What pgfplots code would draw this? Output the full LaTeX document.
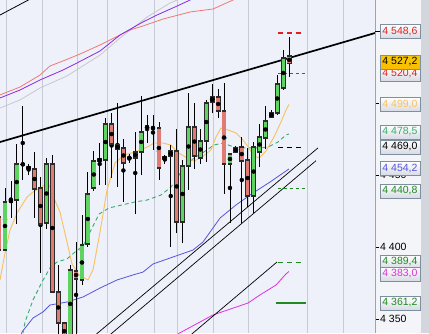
\documentclass[border=0pt]{standalone}
\usepackage{pgfplots}
\pgfplotsset{compat=1.18}
\usepackage{pgfplotstable}
\usepackage{fontspec}
\setmainfont{Liberation Sans}
\definecolor{bgc}{HTML}{EEF0FA}
\definecolor{gridc}{HTML}{C6CBD8}
\definecolor{panelc}{HTML}{F4F5F9}
\definecolor{stripc}{HTML}{D3D6DD}
\definecolor{gfill}{HTML}{5FD35F}
\definecolor{rfill}{HTML}{E07B74}
\definecolor{cborder}{HTML}{2B2B2B}
\definecolor{maorange}{HTML}{F8C15C}
\definecolor{magreen}{HTML}{34B06A}
\definecolor{mablue}{HTML}{5555DD}
\definecolor{mamag}{HTML}{E030E0}
\definecolor{mared}{HTML}{F07878}
\definecolor{mapurple}{HTML}{8A2BE2}
\definecolor{magray}{HTML}{C8C8CC}
\definecolor{lvred}{HTML}{E02020}
\definecolor{lvgreen}{HTML}{1F8A1F}
\definecolor{boxdraw}{HTML}{7F8FA0}
\definecolor{gold}{HTML}{F8C800}

\pgfplotstableread{
i o h l c
0 4397.9 4441.0 4397.2 4431.3
1 4431.3 4445.8 4420.1 4432.6
2 4432.6 4471.5 4416.0 4457.6
3 4457.3 4497.9 4446.5 4457.5
7 4416.7 4461.8 4412.5 4457.6
11 4337.0 4387.5 4330.0 4384.0
13 4377.1 4422.2 4373.6 4401.4
14 4402.1 4452.1 4400.0 4436.8
15 4441.0 4466.7 4438.9 4459.7
16 4459.7 4472.2 4443.1 4461.1
17 4460.4 4489.6 4443.1 4485.4
21 4461.9 4464.6 4458.3 4462.0
22 4461.8 4479.9 4422.9 4466.0
23 4466.0 4504.9 4450.0 4479.9
24 4481.9 4491.7 4472.2 4484.0
25 4482.5 4491.7 4467.4 4482.7
27 4461.1 4463.9 4457.6 4462.5
28 4463.2 4470.8 4400.0 4466.7
30 4417.4 4460.4 4402.8 4456.3
31 4456.3 4506.9 4439.6 4483.3
33 4461.8 4481.9 4457.6 4473.6
34 4473.6 4502.1 4459.0 4500.0
35 4500.7 4513.2 4493.1 4504.2
38 4457.6 4465.3 4416.7 4464.6
39 4466.0 4470.1 4465.3 4468.8
42 4435.4 4472.9 4423.6 4469.4
43 4466.0 4485.4 4455.6 4476.4
44 4475.7 4497.9 4468.1 4487.5
45 4490.3 4495.1 4489.6 4493.1
46 4493.1 4519.4 4491.7 4513.2
47 4510.4 4536.8 4509.0 4531.3
}\greendata

\pgfplotstableread{
i o h l c
-1 4420.8 4424.3 4394.4 4397.9
4 4455.6 4457.6 4450.0 4454.2
5 4454.2 4466.0 4420.1 4440.3
6 4441.0 4448.6 4381.9 4416.0
8 4457.6 4464.0 4368.1 4368.8
9 4368.8 4387.5 4335.4 4347.2
10 4347.2 4348.0 4328.0 4336.0
12 4383.3 4403.5 4330.0 4377.8
18 4485.4 4493.1 4447.9 4471.5
19 4470.8 4500.0 4441.7 4468.1
20 4468.8 4475.0 4431.3 4458.3
26 4482.6 4486.8 4446.5 4454.9
29 4466.7 4481.9 4409.7 4417.4
32 4483.3 4500.0 4454.2 4463.2
36 4504.2 4509.7 4489.6 4494.4
37 4494.4 4513.9 4436.8 4457.6
40 4469.4 4476.4 4416.7 4459.7
41 4460.4 4468.8 4427.8 4435.4
48 4532.6 4545.8 4518.1 4527.2
}\reddata

\pgfplotsset{
  wick/.style={only marks, mark=none, forget plot,
    error bars/.cd, y dir=both, y explicit, error mark=none,
    error bar style={draw=black, line width=0.8pt}},
  bodyout/.style={only marks, mark=none, forget plot,
    error bars/.cd, y dir=both, y explicit, error mark=none,
    error bar style={draw=cborder, line width=4.8pt}},
  bodyin/.style={only marks, mark=none, forget plot,
    error bars/.cd, y dir=both, y explicit, error mark=none,
    error bar style={draw=#1, line width=3.4pt}},
}

\begin{document}
\begin{tikzpicture}
\fill[panelc] (375pt,0pt) rectangle (429pt,333pt);
\fill[stripc] (421pt,0pt) rectangle (429pt,333pt);
\begin{axis}[
  at={(0pt,0pt)}, anchor=south west,
  scale only axis, width=375pt, height=333pt,
  xmin=-0.845, xmax=62.5, ymin=4340.28, ymax=4571.53,
  clip mode=individual,
  axis background/.style={fill=bgc},
  axis line style={draw=none},
  xtick={0.17,6.25,12.16,17.23,25.17,29.05,35.14,41.05,51.01,57.09},
  xticklabels={}, x tick style={draw=none},
  xmajorgrids, major grid style={gridc, line width=0.8pt},
  ytick={4350,4400,4450,4500,4550},
  yticklabels={4 350,4 400,4 450,,},
  ytick pos=right, yticklabel pos=right,
  tick align=outside, major tick length=4pt,
  y tick style={draw=black, line width=0.5pt},
  yticklabel style={font=\fontsize{10.5}{12}\selectfont, anchor=west, inner sep=1pt},
]
% moving averages
\addplot[magray, line width=0.8pt] coordinates {(-0.845,4496.5)(2.53,4502.1)(5.91,4510.4)(10.47,4518.8)(16.05,4533.3)(19.43,4545.1)(23.99,4559.7)(27.87,4569.4)(29.05,4571.5)(30.41,4575)};
\addplot[mared, line width=0.8pt] coordinates {(-0.845,4505.6)(2.53,4511.1)(5.91,4519.4)(7.60,4525.7)(9.80,4529.2)(12.67,4534.0)(16.05,4540.3)(19.43,4547.2)(21.11,4550.7)(23.31,4553.5)(26.69,4558.3)(31.25,4563.2)(35.14,4565.3)(38.51,4571.5)(40.54,4575)};
\addplot[mapurple, line width=0.8pt] coordinates {(-0.845,4503.5)(2.53,4509.0)(5.91,4516.0)(9.80,4522.9)(12.16,4527.8)(16.05,4536.1)(19.43,4547.2)(23.31,4556.3)(25.68,4561.1)(28.72,4566.7)(31.25,4571.5)(32.94,4575)};
\addplot[mablue, line width=0.8pt] coordinates {(2.53,4335.4)(2.87,4341.0)(4.73,4350.7)(6.42,4354.9)(7.60,4359.7)(10.47,4361.8)(13.18,4365.3)(16.05,4371.5)(18.92,4377.1)(21.62,4380.6)(23.31,4382.6)(25.0,4388.2)(28.89,4393.8)(31.76,4397.9)(33.45,4403.5)(36.32,4420.1)(39.02,4429.2)(41.89,4437.5)(44.76,4445.1)(47.97,4454.2)};
\addplot[mamag, line width=0.8pt] coordinates {(28.55,4338.2)(35.14,4352.8)(41.05,4361.1)(43.07,4366.7)(45.78,4373.6)(47.47,4381.3)(47.97,4383.0)};
\addplot[magreen, line width=0.9pt, dash pattern=on 4pt off 3pt] coordinates {(2.70,4335.4)(3.04,4340.3)(3.38,4347.9)(4.73,4363.2)(6.25,4375.7)(7.60,4385.4)(8.78,4389.6)(10.47,4391.7)(11.82,4396.5)(13.18,4400.7)(14.70,4413.2)(15.88,4422.9)(17.57,4427.1)(19.76,4429.2)(21.96,4431.3)(23.99,4432.6)(26.35,4436.1)(28.04,4441.7)(28.89,4446.5)(30.24,4455.6)(31.93,4461.8)(33.61,4466.0)(35.30,4470.8)(36.82,4472.2)(38.68,4469.4)(40.20,4468.8)(42.91,4468.8)(44.43,4469.4)(46.11,4472.9)(47.47,4477.8)(47.97,4478.5)};
\addplot[maorange, line width=0.9pt] coordinates {(-0.845,4377.1)(0,4395.8)(0.845,4411.8)(2.03,4423.6)(3.72,4434.7)(4.73,4438.2)(6.25,4441.7)(7.09,4444.4)(7.60,4441.7)(8.11,4435.4)(9.29,4424.3)(10.47,4403.5)(11.32,4388.2)(12.50,4380.6)(14.02,4377.1)(14.86,4384.0)(16.05,4410.4)(17.23,4439.6)(18.58,4458.3)(20.10,4463.9)(21.96,4466.0)(23.99,4469.4)(25.17,4472.2)(26.69,4472.2)(28.04,4470.8)(29.05,4466.0)(30.74,4461.8)(31.93,4459.7)(33.28,4462.5)(34.80,4467.4)(35.64,4476.4)(36.49,4482.6)(37.67,4481.3)(39.02,4479.2)(40.20,4474.3)(41.22,4468.8)(42.06,4463.2)(42.91,4461.8)(44.09,4466.7)(45.44,4476.4)(46.62,4486.8)(47.47,4495.1)(47.97,4499.0)};
% trend lines
\addplot[black, line width=1.7pt] coordinates {(-0.845,4472.9)(62.5,4548.6)};
\addplot[black, line width=0.8pt] coordinates {(-0.845,4561.1)(6,4576)};
\addplot[black, line width=0.7pt] coordinates {(15.20,4338.7)(52.87,4468.8)};
\addplot[black, line width=0.7pt] coordinates {(17.57,4338.5)(52.53,4459.9)};
\addplot[black, line width=0.7pt] coordinates {(31.25,4338.5)(45.95,4389.6)};
% level markers
\addplot[lvred, line width=1.4pt, dash pattern=on 5pt off 4pt] coordinates {(46.11,4548.6)(50.5,4548.6)};
\addplot[lvred, line width=0.6pt, dash pattern=on 3pt off 3pt] coordinates {(46.11,4520.4)(50.84,4520.4)};
\addplot[black, line width=1.5pt, dash pattern=on 5pt off 4pt] coordinates {(46.11,4469.0)(50.5,4469.0)};
\addplot[lvgreen, line width=0.6pt, dash pattern=on 3pt off 3pt] coordinates {(46.11,4440.8)(50.84,4440.8)};
\addplot[lvgreen, line width=1.5pt, dash pattern=on 5pt off 4pt] coordinates {(46.11,4389.4)(50.5,4389.4)};
\addplot[lvgreen, line width=1.5pt] coordinates {(45.78,4361.2)(50.84,4361.2)};
% candles
\addplot[wick] table[x=i, y expr=(\thisrow{h}+\thisrow{l})/2, y error expr=(\thisrow{h}-\thisrow{l})/2] \greendata;
\addplot[wick] table[x=i, y expr=(\thisrow{h}+\thisrow{l})/2, y error expr=(\thisrow{h}-\thisrow{l})/2] \reddata;
\addplot[bodyout] table[x=i, y expr=(\thisrow{o}+\thisrow{c})/2, y error expr={abs(\thisrow{c}-\thisrow{o})/2+0.45}] \greendata;
\addplot[bodyout] table[x=i, y expr=(\thisrow{o}+\thisrow{c})/2, y error expr={abs(\thisrow{c}-\thisrow{o})/2+0.45}] \reddata;
\addplot[bodyin=gfill] table[x=i, y expr=(\thisrow{o}+\thisrow{c})/2, y error expr={max(abs(\thisrow{c}-\thisrow{o})/2-0.45,0)}] \greendata;
\addplot[bodyin=rfill] table[x=i, y expr=(\thisrow{o}+\thisrow{c})/2, y error expr={max(abs(\thisrow{c}-\thisrow{o})/2-0.45,0)}] \reddata;
\draw[draw=boxdraw!80, line width=0.8pt] (rel axis cs:1,0) -- (rel axis cs:1,1);
\end{axis}
\tikzset{lb/.style={draw=boxdraw, line width=0.6pt, top color=white, bottom color=gridc!70, minimum width=40pt, minimum height=14pt, inner sep=0pt, font=\fontsize{10.5}{12}\selectfont}}
\draw[black, line width=1.7pt] (375pt,301.5pt) -- (380pt,301.5pt);
\node[lb, text=lvred] at (400pt,301.5pt) {4 548,6};
\node[lb, text=lvred] at (400pt,259pt) {4 520,4};
\node[lb, draw=boxdraw, top color=gold, bottom color=gold!85!orange, minimum height=14pt, text=black] at (400pt,271pt) {4 527,2};
\node[lb, text=maorange] at (400pt,228.5pt) {4 499,0};
\node[lb, text=magreen] at (400pt,201pt) {4 478,5};
\node[lb, text=black] at (400pt,186pt) {4 469,0};
\node[lb, text=mablue] at (400pt,164.5pt) {4 454,2};
\node[lb, text=lvgreen] at (400pt,142pt) {4 440,8};
\node[lb, text=lvgreen] at (400pt,71pt) {4 389,4};
\node[lb, text=mamag] at (400pt,59pt) {4 383,0};
\node[lb, text=lvgreen] at (400pt,30pt) {4 361,2};
\pgfresetboundingbox
\path[use as bounding box] (0pt,0pt) rectangle (429pt,333pt);
\end{tikzpicture}
\end{document}
